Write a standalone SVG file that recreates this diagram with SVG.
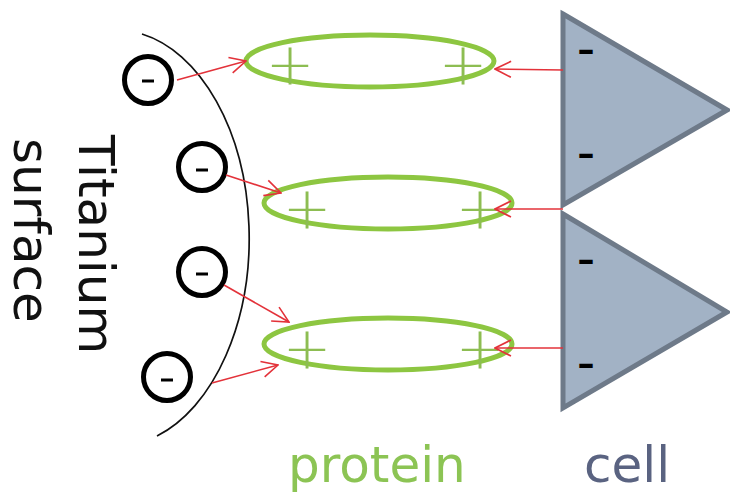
<svg xmlns="http://www.w3.org/2000/svg" width="730" height="493" viewBox="0 0 730 493">
<style>
.neg{fill:none;stroke:#000;stroke-width:5}
.dash{stroke:#000;stroke-width:3}
.prot{fill:none;stroke:#8dc641;stroke-width:5}
.plus{font-family:"DejaVu Sans",Verdana,sans-serif;font-size:58px;fill:#8dbd52;text-anchor:middle;font-weight:200}
.cell{fill:#a2b2c5;stroke:#6e7a89;stroke-width:5;stroke-linejoin:miter}
.cminus{font-family:"DejaVu Sans",Verdana,sans-serif;font-size:34px;font-weight:bold;fill:#000;text-anchor:middle}
.lbl{font-family:"DejaVu Sans",Verdana,sans-serif;font-size:50px}
.arr{fill:none;stroke:#e3323a;stroke-width:1.6;marker-end:url(#ah)}
</style>
<defs>
<marker id="ah" viewBox="0 0 20 20" refX="19" refY="10" markerWidth="20" markerHeight="20" markerUnits="userSpaceOnUse" orient="auto">
<path d="M3,2 L19,10 L3,18" fill="none" stroke="#e3323a" stroke-width="1.6"/>
</marker>
</defs>
<rect width="730" height="493" fill="#fff"/>
<g id="titanium-surface">
<path d="M142,34 A133,208 0 0 1 157,436" fill="none" stroke="#111" stroke-width="1.7"/>
<text class="lbl" fill="#111" transform="translate(79,135) rotate(90)">Titanium</text>
<text class="lbl" fill="#111" transform="translate(14,138) rotate(90)">surface</text>
</g>
<g id="charge1"><circle class="neg" cx="148" cy="80" r="23.5"/><line class="dash" x1="142" y1="81" x2="154" y2="81"/></g>
<g id="charge2"><circle class="neg" cx="202" cy="167" r="23.5"/><line class="dash" x1="196" y1="170" x2="208" y2="170"/></g>
<g id="charge3"><circle class="neg" cx="202" cy="272" r="23.5"/><line class="dash" x1="196" y1="274" x2="208" y2="274"/></g>
<g id="charge4"><circle class="neg" cx="167" cy="377" r="23.5"/><line class="dash" x1="161" y1="380" x2="173" y2="380"/></g>
<g id="protein1"><ellipse class="prot" cx="370" cy="61" rx="124" ry="26"/><text class="plus" x="290" y="84">+</text><text class="plus" x="463" y="84">+</text></g>
<g id="protein2"><ellipse class="prot" cx="388" cy="203" rx="124" ry="26"/><text class="plus" x="307" y="228">+</text><text class="plus" x="480" y="228">+</text></g>
<g id="protein3"><ellipse class="prot" cx="388" cy="344" rx="124" ry="26"/><text class="plus" x="307" y="368">+</text><text class="plus" x="480" y="368">+</text></g>
<g id="cell1"><polygon class="cell" points="563,14 727,110 563,205"/><text class="cminus" x="586" y="61">–</text><text class="cminus" x="586" y="165">–</text></g>
<g id="cell2"><polygon class="cell" points="563,214 727,312 563,408"/><text class="cminus" x="586" y="271">–</text><text class="cminus" x="586" y="375">–</text></g>
<g id="labels">
<text class="lbl" fill="#8cc454" x="288" y="482">protein</text>
<text class="lbl" fill="#5a6381" x="584" y="482">cell</text>
</g>
<g id="connectors">
<line class="arr" x1="177" y1="80" x2="246" y2="61"/>
<line class="arr" x1="226" y1="175" x2="281" y2="193"/>
<line class="arr" x1="224" y1="285" x2="289" y2="322"/>
<line class="arr" x1="212" y1="383" x2="278" y2="365"/>
<line class="arr" x1="563" y1="70" x2="495" y2="69"/>
<line class="arr" x1="563" y1="209" x2="495" y2="209"/>
<line class="arr" x1="563" y1="348" x2="495" y2="348"/>
</g>
</svg>
